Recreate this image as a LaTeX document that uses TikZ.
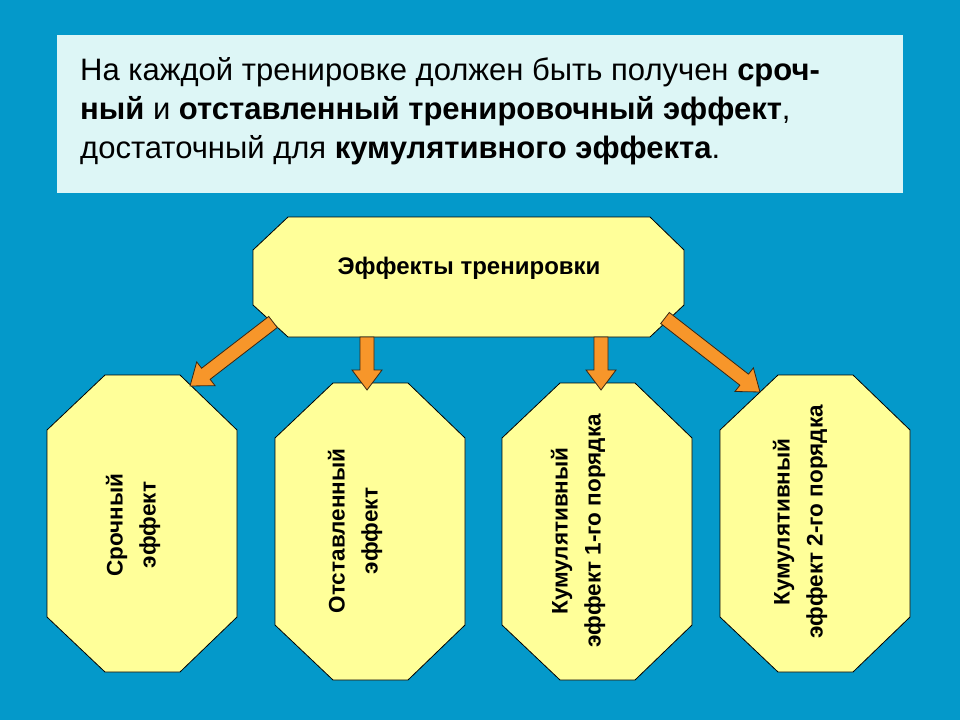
\documentclass[tikz,border=0pt]{standalone}
\usepackage{fontspec}
\setmainfont{Liberation Sans}
\usetikzlibrary{calc}
\definecolor{bg}{HTML}{0499CA}
\definecolor{topbox}{HTML}{DDF6F6}
\definecolor{oct}{HTML}{FFFF99}
\definecolor{arr}{HTML}{F7962A}
\tikzset{octbox/.style={fill=oct,draw=black,line width=0.8pt},
 arrstyle/.style={fill=arr,draw=black!70!brown,line width=0.8pt,line join=miter},
 vlabel/.style={rotate=90,align=center,font=\bfseries\fontsize{22.5}{33}\selectfont}}
\newcommand{\blockarrow}[2]{%
 \path[arrstyle] let \p1=($(#2)-(#1)$), \n1={atan2(\y1,\x1)}, \n2={veclen(\x1,\y1)} in
 [shift={(#1)},rotate=\n1] (0,-7)--(\n2-20,-7)--(\n2-20,-15)--(\n2,0)--(\n2-20,15)--(\n2-20,7)--(0,7)--cycle;}
\begin{document}
\begin{tikzpicture}[x=1pt,y=-1pt]
\fill[bg] (0,0) rectangle (960,720);
\fill[topbox] (57,35) rectangle (903,193);
\node[anchor=north west,align=left,font=\fontsize{31}{39}\selectfont,inner sep=0] (t) at (80,57)
 {На каждой тренировке должен быть получен \textbf{сроч-}\\
 \textbf{ный} и \textbf{отставленный тренировочный эффект},\\
 достаточный для \textbf{кумулятивного эффекта}.};
% header
\draw[octbox] (288,217)--(650,217)--(684,250)--(684,305)--(650,337)--(288,337)--(253,305)--(253,250)--cycle;
\node[font=\bfseries\fontsize{24}{28}\selectfont] (h) at (469,268) {Эффекты тренировки};
% octagons
\foreach \x/\y/\n in {47/375/o1,275/383/o2,502/383/o3,720/375/o4}{
 \draw[octbox] (\x+58,\y)--(\x+133,\y)--(\x+190,\y+55)--(\x+190,\y+242)--(\x+133,\y+297)--(\x+58,\y+297)--(\x,\y+242)--(\x,\y+55)--cycle;
 \coordinate (\n) at (\x+95,\y+148);
}
\node[vlabel] (l1) at (133,525) {Срочный\\эффект};
\node[vlabel] (l2) at (355,531) {Отставленный\\эффект};
\node[vlabel] (l3) at (578,531) {Кумулятивный\\эффект 1-го порядка};
\node[vlabel] (l4) at (800,522) {Кумулятивный\\эффект 2-го порядка};
% arrows
\coordinate (a1s) at (273,322); \coordinate (a1e) at (190,386);
\coordinate (a2s) at (367,337); \coordinate (a2e) at (367,390);
\coordinate (a3s) at (601,337); \coordinate (a3e) at (601,390);
\coordinate (a4s) at (665,318); \coordinate (a4e) at (760,392);
\blockarrow{a1s}{a1e}
\blockarrow{a2s}{a2e}
\blockarrow{a3s}{a3e}
\blockarrow{a4s}{a4e}
\end{tikzpicture}
\end{document}
